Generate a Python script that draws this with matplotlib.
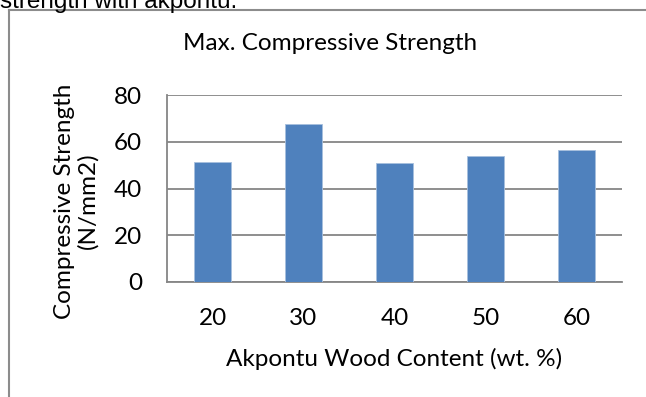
import matplotlib
matplotlib.use("Agg")
import matplotlib.pyplot as plt
from matplotlib.lines import Line2D

# wood content levels and measured max compressive strength
wood_content = ["20", "30", "40", "50", "60"]
strength = [51.2, 67.5, 50.9, 53.8, 56.3]
y_ticks = [0, 20, 40, 60, 80]

W, H = 646, 397
FS = 17.5
plt.rcParams['font.family'] = ['Lato', 'DejaVu Sans']

fig = plt.figure(figsize=(W / 100, H / 100), dpi=100)
fig.patch.set_facecolor('white')

def fx(px):
    return px / W

def fy(py):
    return 1 - py / H

ax = fig.add_axes([fx(167), fy(282), fx(622) - fx(167), fy(95) - fy(282)])

pos = range(len(wood_content))
ax.bar(pos, strength, width=0.4, color='#4F81BD', edgecolor='#A7BFDE', linewidth=0.6, zorder=3)

ax.set_xlim(-0.5, len(wood_content) - 0.5)
ax.set_ylim(0, 80)
ax.set_yticks(y_ticks)
ax.set_xticks(list(pos))
ax.set_xticklabels(wood_content)
ax.tick_params(axis='both', length=0, labelsize=FS, colors='black')
ax.tick_params(axis='y', pad=18)
ax.tick_params(axis='x', pad=19)

ax.grid(axis='y', color='#868686', linewidth=1.3, zorder=0)
for side in ['top', 'right']:
    ax.spines[side].set_visible(False)
for side in ['left', 'bottom']:
    ax.spines[side].set_color('#868686')
    ax.spines[side].set_linewidth(1.3)

ax.set_xlabel('Akpontu Wood Content (wt. %)', fontsize=FS, labelpad=13)

fig.text(fx(76), fy(201), 'Compressive Strength\n(N/mm2)', rotation=90,
         ha='center', va='center', multialignment='center', fontsize=FS,
         linespacing=1.08)
fig.text(fx(330), fy(43), 'Max. Compressive Strength', ha='center', va='center',
         fontsize=FS)

# chart frame (only top and left edges fall inside the canvas)
frame_kw = dict(color='#8C8C8C', linewidth=1.5, transform=fig.transFigure)
fig.add_artist(Line2D([fx(9), 1.0], [fy(10), fy(10)], **frame_kw))
fig.add_artist(Line2D([fx(9), fx(9)], [fy(10), 0.0], **frame_kw))

# tail of the caption sentence above the chart
fig.text(0.0, fy(8), 'strength with akpontu.', ha='left', va='baseline',
         fontsize=FS, family=['Liberation Sans', 'DejaVu Sans'])

fig.savefig('out.png', dpi=100)
